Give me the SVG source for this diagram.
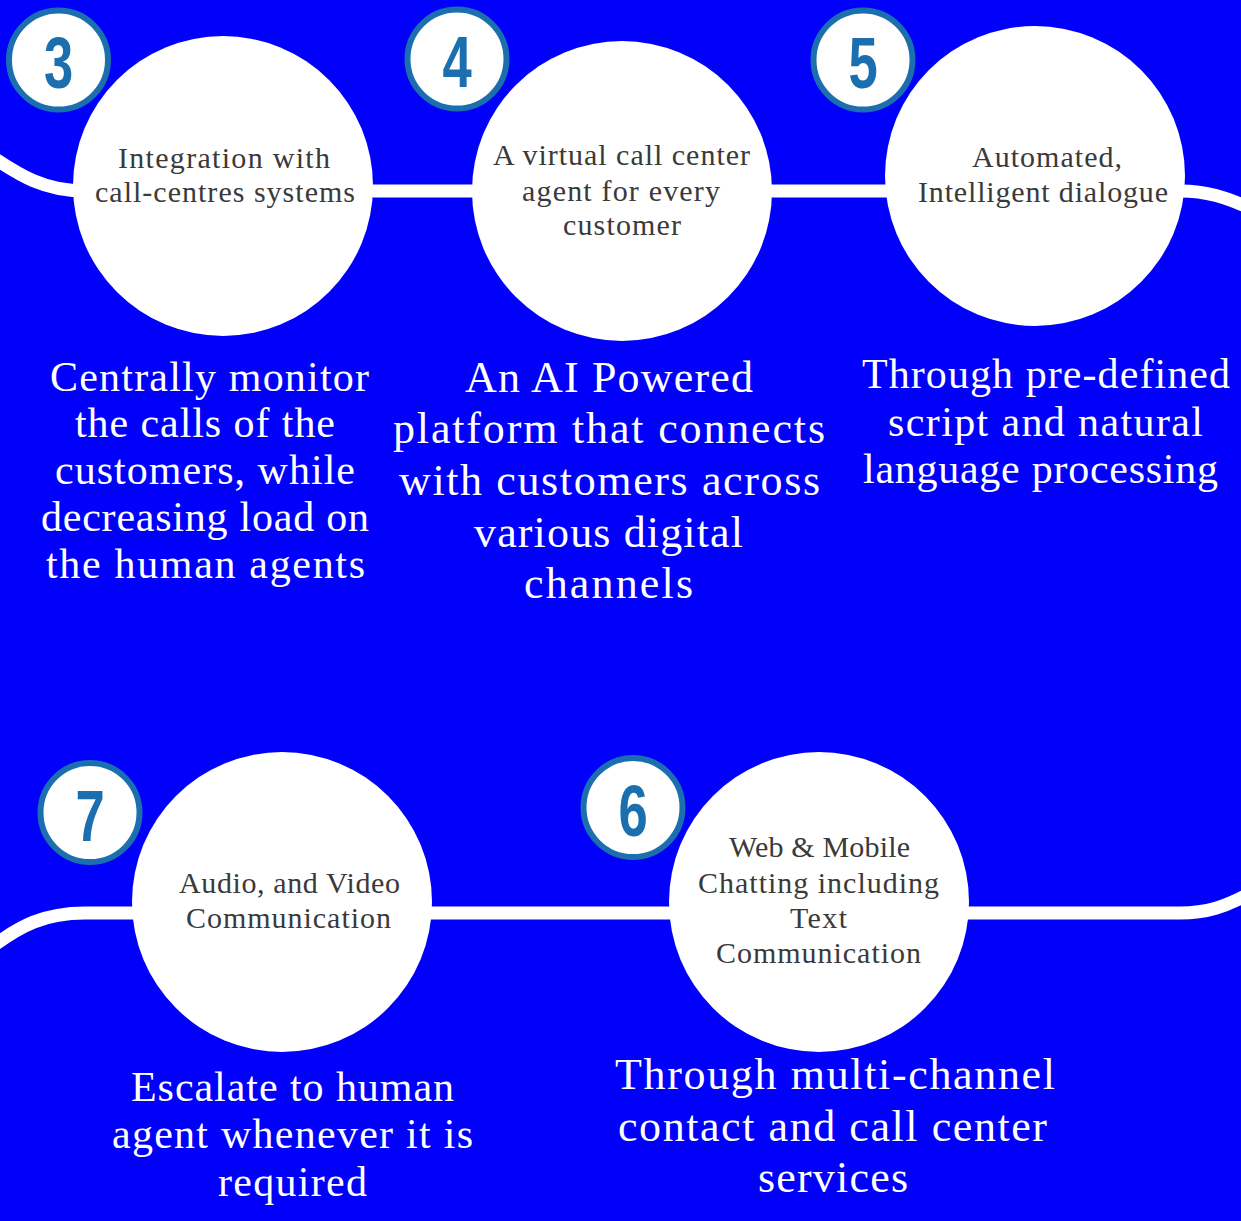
<svg xmlns="http://www.w3.org/2000/svg" width="1241" height="1221" viewBox="0 0 1241 1221">
<style>
.bg{fill:#0000fb}
.link{fill:none;stroke:#ffffff;stroke-width:13}
.node{fill:#ffffff}
.badge{fill:#ffffff;stroke:#1b6fae;stroke-width:6}
.num{font-family:"Liberation Sans",Arial,sans-serif;font-weight:bold;font-size:73px;fill:#1b6fae;text-anchor:middle}
.inner{font-family:"Liberation Serif","Times New Roman",serif;font-size:30px;fill:#3a3a3a;text-anchor:middle}
.body{font-family:"Liberation Serif","Times New Roman",serif;font-size:42px;fill:#ffffff;text-anchor:middle}
.body2{font-family:"Liberation Serif","Times New Roman",serif;font-size:44px;fill:#ffffff;text-anchor:middle}
</style>
<rect class="bg" x="0" y="0" width="1241" height="1221"/>
<g id="connectors">
<path class="link" d="M -12 154 C 20 176 45 191 85 191 L 1180 191 C 1205 191 1225 196 1258 212"/>
<path class="link" d="M -12 950 C 20 925 45 913 85 913 L 1180 913 C 1205 913 1225 908 1256 890"/>
</g>
<g id="node3">
<circle class="node" cx="223" cy="186" r="150"/>
<circle class="badge" cx="58.5" cy="60" r="49.5"/>
<text class="num" transform="translate(58.5,88) scale(0.72,1)">3</text>
<text class="inner" x="224" y="168" textLength="212" lengthAdjust="spacing">Integration with</text>
<text class="inner" x="225" y="202" textLength="260" lengthAdjust="spacing">call-centres systems</text>
<text class="body" x="209.5" y="391" textLength="319" lengthAdjust="spacing">Centrally monitor</text>
<text class="body" x="205" y="437" textLength="260" lengthAdjust="spacing">the calls of the</text>
<text class="body" x="205" y="484" textLength="300" lengthAdjust="spacing">customers, while</text>
<text class="body" x="205" y="531" textLength="328" lengthAdjust="spacing">decreasing load on</text>
<text class="body" x="205.5" y="578" textLength="319" lengthAdjust="spacing">the human agents</text>
</g>
<g id="node4">
<circle class="node" cx="622" cy="191" r="150"/>
<circle class="badge" cx="457" cy="59" r="49.5"/>
<text class="num" transform="translate(457,87) scale(0.72,1)">4</text>
<text class="inner" x="621.5" y="165" textLength="257" lengthAdjust="spacing">A virtual call center</text>
<text class="inner" x="621" y="201" textLength="198" lengthAdjust="spacing">agent for every</text>
<text class="inner" x="622" y="235" textLength="118" lengthAdjust="spacing">customer</text>
<text class="body2" x="609" y="392" textLength="288" lengthAdjust="spacing">An AI Powered</text>
<text class="body2" x="609" y="443" textLength="432" lengthAdjust="spacing">platform that connects</text>
<text class="body2" x="609.5" y="495" textLength="421" lengthAdjust="spacing">with customers across</text>
<text class="body2" x="608.5" y="547" textLength="269" lengthAdjust="spacing">various digital</text>
<text class="body2" x="608.5" y="598" textLength="169" lengthAdjust="spacing">channels</text>
</g>
<g id="node5">
<circle class="node" cx="1035" cy="176" r="150"/>
<circle class="badge" cx="863" cy="60" r="49.5"/>
<text class="num" transform="translate(863,88) scale(0.72,1)">5</text>
<text class="inner" x="1047" y="167" textLength="150" lengthAdjust="spacing">Automated,</text>
<text class="inner" x="1043" y="202" textLength="250" lengthAdjust="spacing">Intelligent dialogue</text>
<text class="body" x="1046" y="388" textLength="368" lengthAdjust="spacing">Through pre-defined</text>
<text class="body" x="1045.5" y="436" textLength="315" lengthAdjust="spacing">script and natural</text>
<text class="body" x="1040.5" y="483" textLength="355" lengthAdjust="spacing">language processing</text>
</g>
<g id="node7">
<circle class="node" cx="282" cy="902" r="150"/>
<circle class="badge" cx="90" cy="812.5" r="49.5"/>
<text class="num" transform="translate(90,840.5) scale(0.72,1)">7</text>
<text class="inner" x="289.5" y="893" textLength="221" lengthAdjust="spacing">Audio, and Video</text>
<text class="inner" x="288.5" y="928" textLength="205" lengthAdjust="spacing">Communication</text>
<text class="body" x="292.5" y="1101" textLength="323" lengthAdjust="spacing">Escalate to human</text>
<text class="body" x="292.5" y="1148" textLength="361" lengthAdjust="spacing">agent whenever it is</text>
<text class="body" x="292.5" y="1196" textLength="149" lengthAdjust="spacing">required</text>
</g>
<g id="node6">
<circle class="node" cx="819" cy="902" r="150"/>
<circle class="badge" cx="633" cy="807.5" r="49.5"/>
<text class="num" transform="translate(633,835.5) scale(0.72,1)">6</text>
<text class="inner" x="819.5" y="857" textLength="181" lengthAdjust="spacing">Web &amp; Mobile</text>
<text class="inner" x="818.5" y="893" textLength="241" lengthAdjust="spacing">Chatting including</text>
<text class="inner" x="818.5" y="928" textLength="57" lengthAdjust="spacing">Text</text>
<text class="inner" x="818.5" y="963" textLength="205" lengthAdjust="spacing">Communication</text>
<text class="body2" x="835" y="1089" textLength="440" lengthAdjust="spacing">Through multi-channel</text>
<text class="body2" x="832.5" y="1141" textLength="429" lengthAdjust="spacing">contact and call center</text>
<text class="body2" x="833" y="1192" textLength="150" lengthAdjust="spacing">services</text>
</g>
</svg>
